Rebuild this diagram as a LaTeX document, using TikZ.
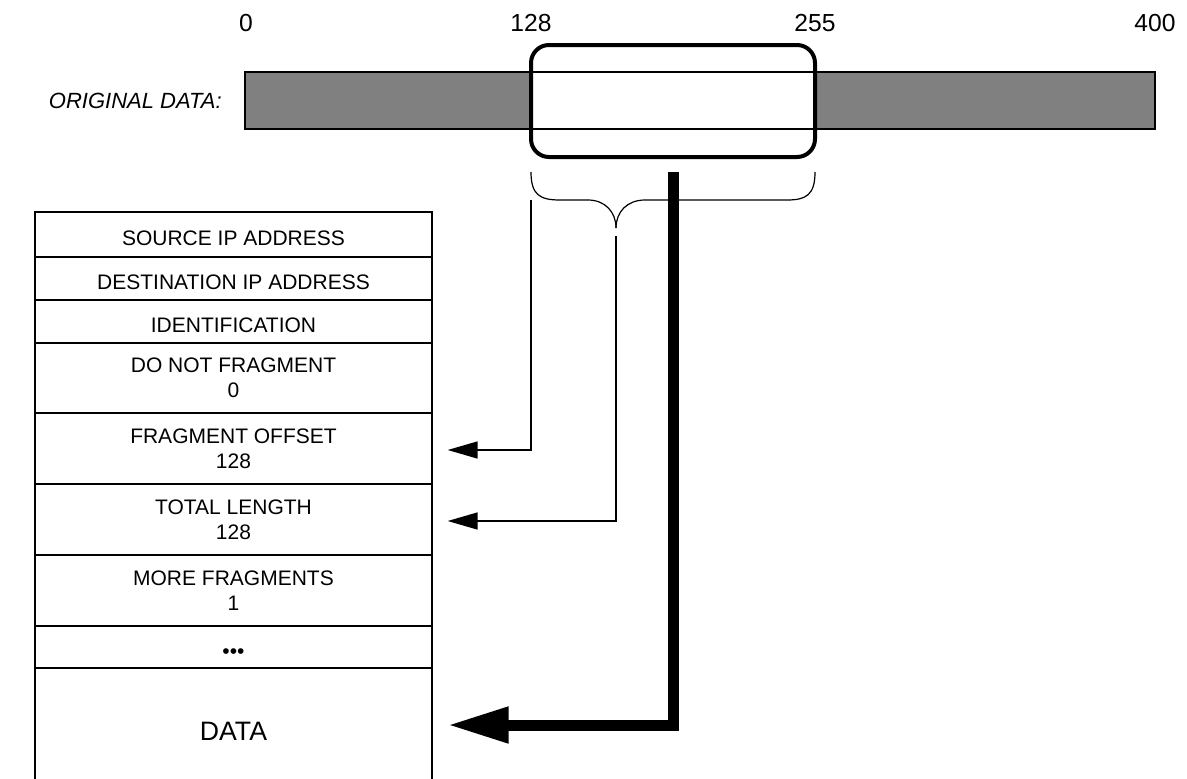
\documentclass[tikz,border=0pt]{standalone}
\usepackage{fontspec}
\setmainfont{Liberation Sans}
\usetikzlibrary{arrows.meta}
\begin{document}
\begin{tikzpicture}[x=0.75pt,y=-0.75pt,
  row/.style={draw, line width=1pt, minimum width=297.75pt, inner sep=0pt, align=center,
    font=\fontsize{15.75}{19}\selectfont},
  onerow/.style={row, text height=16.5pt, text depth=0pt},
  toplabel/.style={font=\fontsize{18.5}{20}\selectfont, inner sep=0pt},
  thinarrow/.style={line width=1.2pt, -{Triangle[length=22.5pt,width=12.75pt]}},
  thickarrow/.style={line width=8.25pt, line join=miter, -{Triangle[length=45.75pt,width=25.5pt]}},
  bracestyle/.style={line width=0.9pt}]
\clip (0,0) rectangle (1187,778);
% bar
\fill[gray] (245,72) rectangle (1155,129);
\fill[white] (531,72) rectangle (815,129);
\node[draw, line width=1.2pt, minimum width=682.5pt, minimum height=42.75pt, inner sep=0pt] (bar) at (700,100.5) {};
\node[draw, line width=3pt, rounded corners=13.5pt, minimum width=213pt, minimum height=84pt, inner sep=0pt] (sel) at (673,101) {};
% labels
\node[toplabel] (l0) at (246,23.5) {0};
\node[toplabel] (l128) at (531,23.5) {128};
\node[toplabel] (l255) at (815,23.5) {255};
\node[toplabel] (l400) at (1155,23.5) {400};
\node[font=\fontsize{16.5}{19}\selectfont\itshape, anchor=east, inner sep=0pt] (orig) at (222,101) {ORIGINAL DATA:};
% brace
\draw[bracestyle] (531,172) .. controls (531,195) and (540,200) .. (560,200) -- (588,200)
  .. controls (605,200) and (616,212) .. (616,228);
\draw[bracestyle] (815,172) .. controls (815,195) and (806,200) .. (787,200) -- (645,200)
  .. controls (627,200) and (616,212) .. (616,228);
\coordinate (bl) at (531,200);
\coordinate (bm) at (616,236);
\coordinate (bt) at (673.5,172);
% table
\node[onerow, minimum height=33.75pt] (src) at (233.5,234.5) {SOURCE IP ADDRESS};
\node[onerow, minimum height=32.25pt] (dst) at (233.5,278.5) {DESTINATION IP ADDRESS};
\node[onerow, minimum height=32.25pt] (ident) at (233.5,321.5) {IDENTIFICATION};
\node[row, minimum height=52.5pt] (dnf) at (233.5,378) {DO NOT FRAGMENT\\0};
\node[row, minimum height=53.25pt] (fo) at (233.5,448.5) {FRAGMENT OFFSET\\128};
\node[row, minimum height=53.25pt] (tl) at (233.5,519.5) {TOTAL LENGTH\\128};
\node[row, minimum height=53.25pt] (mf) at (233.5,590.5) {MORE FRAGMENTS\\1};
\node[onerow, minimum height=31.5pt] (dots) at (233.5,647) {•••};
\node[row, minimum height=95.25pt, font=\fontsize{20}{24}\selectfont] (data) at (233.5,731.5) {DATA};
% arrows
\draw[thinarrow] (bl) |- ([shift={(15,1.5)}]fo.east);
\draw[thinarrow] (bm) |- ([shift={(15,1.5)}]tl.east);
\draw[thickarrow] (bt) |- ([shift={(15,-6.5)}]data.east);
\end{tikzpicture}
\end{document}
